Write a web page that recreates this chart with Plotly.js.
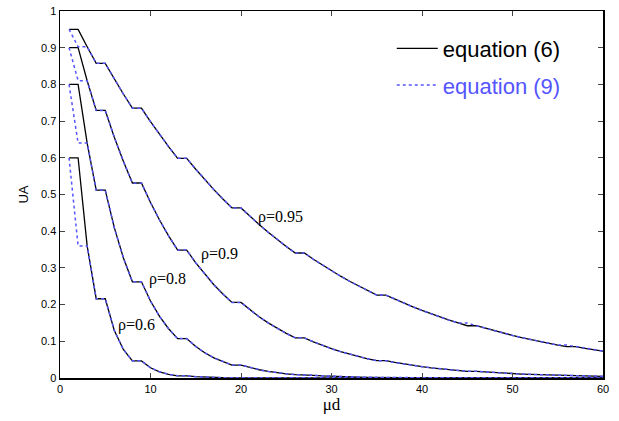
<!DOCTYPE html>
<html>
<head>
<meta charset="utf-8">
<script src="https://cdn.plot.ly/plotly-3.0.1.min.js"></script>
<style>html,body{margin:0;padding:0;background:#fff;}#chart{width:619px;height:421px;}</style>
</head>
<body>
<div id="chart"></div>
<script>
// mu*d values (x axis)
const muD = [1,2,3,4,5,6,7,8,9,10,11,12,13,14,15,16,17,18,19,20,21,22,23,24,25,26,27,28,29,30,
             31,32,33,34,35,36,37,38,39,40,41,42,43,44,45,46,47,48,49,50,51,52,53,54,55,56,57,58,59,60];

// equation (6) — solid black
const eq6_rho095 = [.950,.950,.9025,.8574,.8574,.8145,.7738,.7351,.7351,.6983,.6634,.6302,.5987,.5987,.5688,.5404,.5133,.4877,.4633,.4633,
                    .4401,.4181,.3972,.3774,.3585,.3406,.3406,.3235,.3074,.2920,.2774,.2635,.2503,.2378,.2259,.2259,.2146,.2039,.1937,.1840,
                    .1748,.1661,.1578,.1499,.1424,.1424,.1353,.1285,.1221,.1160,.1102,.1047,.0994,.0945,.0897,.0853,.0853,.0810,.0769,.0731];
const eq6_rho09  = [.900,.900,.810,.729,.729,.6561,.5905,.5314,.5314,.4783,.4305,.3874,.3487,.3487,.3138,.2824,.2542,.2288,.2059,.2059,
                    .1853,.1668,.1501,.1351,.1216,.1094,.1094,.0985,.0886,.0798,.0718,.0646,.0582,.0523,.0471,.0471,.0424,.0382,.0343,.0309,
                    .0278,.0250,.0225,.0203,.0182,.0182,.0164,.0148,.0133,.0120,.0108,.0097,.0087,.0079,.0071,.0064,.0064,.0057,.0052,.0046];
const eq6_rho08  = [.800,.800,.640,.512,.512,.4096,.3277,.2621,.2621,.2097,.1678,.1342,.1074,.1074,.0859,.0687,.0550,.0440,.0352,.0352,
                    .0281,.0225,.0180,.0144,.0115,.0092,.0092,.0074,.0059,.0047,.0038,.0030,.0024,.0019,.0015,.0015,.0012,.0010,.0008,.0006,
                    .0005,.0004,.0003,.0003,.0002,.0002,.0002,.0001,.0001,.0001,.0001,.0001,0,0,0,0,0,0,0,0];
const eq6_rho06  = [.600,.600,.360,.216,.216,.1296,.0778,.0467,.0467,.0280,.0168,.0101,.0060,.0060,.0036,.0022,.0013,.0008,.0005,.0005,
                    .0003,.0002,.0001,.0001,0,0,0,0,0,0,0,0,0,0,0,0,0,0,0,0,
                    0,0,0,0,0,0,0,0,0,0,0,0,0,0,0,0,0,0,0,0];

// equation (9) — dotted blue
const eq9_rho095 = [.950,.9025,.9025,.8574,.8574,.8145,.7738,.7351,.7351,.6983,.6634,.6302,.5987,.5987,.5688,.5404,.5133,.4877,.4633,.4633,
                    .4401,.4181,.3972,.3774,.3585,.3406,.3406,.3235,.3074,.2920,.2774,.2635,.2503,.2378,.2259,.2259,.2146,.2039,.1937,.1840,
                    .1748,.1661,.1578,.1499,.1499,.1424,.1353,.1285,.1221,.1160,.1102,.1047,.0994,.0945,.0897,.0897,.0853,.0810,.0769,.0731];
const eq9_rho09  = [.900,.810,.810,.729,.729,.6561,.5905,.5314,.5314,.4783,.4305,.3874,.3487,.3487,.3138,.2824,.2542,.2288,.2059,.2059,
                    .1853,.1668,.1501,.1351,.1216,.1094,.1094,.0985,.0886,.0798,.0718,.0646,.0582,.0523,.0471,.0471,.0424,.0382,.0343,.0309,
                    .0278,.0250,.0225,.0203,.0182,.0182,.0164,.0148,.0133,.0120,.0108,.0097,.0087,.0079,.0071,.0064,.0064,.0057,.0052,.0046];
const eq9_rho08  = [.800,.640,.640,.512,.512,.4096,.3277,.2621,.2621,.2097,.1678,.1342,.1074,.1074,.0859,.0687,.0550,.0440,.0352,.0352,
                    .0281,.0225,.0180,.0144,.0115,.0092,.0092,.0074,.0059,.0047,.0038,.0030,.0024,.0019,.0015,.0015,.0012,.0010,.0008,.0006,
                    .0005,.0004,.0003,.0003,.0002,.0002,.0002,.0001,.0001,.0001,.0001,.0001,0,0,0,0,0,0,0,0];
const eq9_rho06  = [.600,.360,.360,.216,.216,.1296,.0778,.0467,.0467,.0280,.0168,.0101,.0060,.0060,.0036,.0022,.0013,.0008,.0005,.0005,
                    .0003,.0002,.0001,.0001,0,0,0,0,0,0,0,0,0,0,0,0,0,0,0,0,
                    0,0,0,0,0,0,0,0,0,0,0,0,0,0,0,0,0,0,0,0];

const curveLabels = ['ρ=0.95','ρ=0.9','ρ=0.8','ρ=0.6'];
const labelX = [24.4, 17.6, 11.9, 8.4];
const labelY = [0.44, 0.337, 0.269, 0.144];

const eq6Sets = [eq6_rho095, eq6_rho09, eq6_rho08, eq6_rho06];
const eq9Sets = [eq9_rho095, eq9_rho09, eq9_rho08, eq9_rho06];

const BLUE = 'rgb(85,85,255)';
const traces = [];
eq6Sets.forEach((ys, i) => {
  traces.push({x: muD, y: ys, type: 'scatter', mode: 'lines',
    line: {color: '#000', width: 1.3}, name: 'equation (6)',
    legendgroup: 'e6', showlegend: i === 0, hoverinfo: 'skip'});
});
eq9Sets.forEach((ys, i) => {
  traces.push({x: muD, y: ys, type: 'scatter', mode: 'lines',
    line: {color: BLUE, width: 1.5, dash: 'dot'},
    name: '<span style="color:' + BLUE + '">equation (9)</span>',
    legendgroup: 'e9', showlegend: i === 0, hoverinfo: 'skip'});
});

const annotations = curveLabels.map((t, i) => ({
  x: labelX[i], y: labelY[i], xref: 'x', yref: 'y', text: t, showarrow: false,
  font: {family: 'Liberation Serif, Times New Roman, serif', size: 16, color: '#000'},
  xanchor: 'center', yanchor: 'middle'
}));

const layout = {
  width: 619, height: 421,
  margin: {l: 60, r: 16, t: 11, b: 43, pad: 0},
  paper_bgcolor: '#fff', plot_bgcolor: '#fff',
  font: {family: 'Liberation Sans, Arial, sans-serif', size: 11, color: '#000'},
  showlegend: true,
  legend: {x: 0.611, xanchor: 'left', y: 0.955, yanchor: 'top',
           font: {family: 'Liberation Sans, Arial, sans-serif', size: 22, color: '#000'},
           bgcolor: 'rgba(0,0,0,0)', borderwidth: 0, tracegroupgap: 5, itemwidth: 41},
  xaxis: {range: [0, 60], tickvals: [0,10,20,30,40,50,60], ticks: 'inside', ticklen: 5, tickwidth: 1,
          showline: true, linecolor: '#000', linewidth: 1.5, mirror: 'ticks', showgrid: false, zeroline: false,
          tickfont: {size: 11},
          title: {text: 'μd', font: {family: 'Liberation Serif, Times New Roman, serif', size: 17}, standoff: 3}},
  yaxis: {range: [0, 1], dtick: 0.1, ticks: 'inside', ticklen: 5, tickwidth: 1,
          showline: true, linecolor: '#000', linewidth: 1.5, mirror: 'ticks', showgrid: false, zeroline: false,
          tickfont: {size: 11},
          title: {text: 'UA', font: {family: 'Liberation Sans, Arial, sans-serif', size: 13}, standoff: 9}},
  annotations: annotations
};

Plotly.newPlot('chart', traces, layout, {displayModeBar: false, staticPlot: true});
</script>
</body>
</html>
